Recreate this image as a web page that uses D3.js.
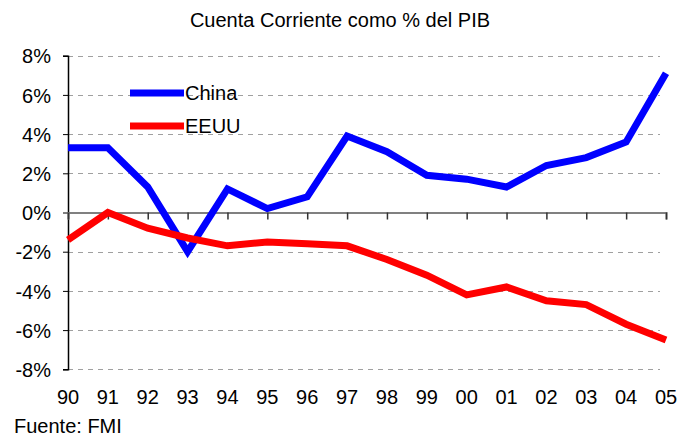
<!DOCTYPE html>
<html><head><meta charset="utf-8">
<script src="https://cdn.jsdelivr.net/npm/d3@7"></script>
<style>body{margin:0;background:#fff}svg{display:block;font-family:Arial,"Liberation Sans",sans-serif}</style>
</head><body>
<svg id="c" width="679" height="438"></svg>
<script>
const years = ["90","91","92","93","94","95","96","97","98","99","00","01","02","03","04","05"];
const china = [3.3,3.3,1.3,-2.0,1.2,0.2,0.8,3.9,3.1,1.9,1.7,1.3,2.4,2.8,3.6,7.1];
const eeuu  = [-1.4,0.0,-0.8,-1.3,-1.7,-1.5,-1.6,-1.7,-2.4,-3.2,-4.2,-3.8,-4.5,-4.7,-5.7,-6.5];
const yTicks = [8,6,4,2,0,-2,-4,-6,-8];
const seriesNames = ["China","EEUU"];
const seriesColors = ["#0000ff","#ff0000"];

const FS = 20;
const svg = d3.select("#c");
const x = d3.scalePoint().domain(years).range([68,666]);
const y = d3.scaleLinear().domain([-8,8]).range([369.3,55.7]);

svg.append("text").attr("x",340).attr("y",27).attr("text-anchor","middle")
  .attr("font-size",FS).text("Cuenta Corriente como % del PIB");

// gridlines
svg.append("g").selectAll("line").data(yTicks.filter(d=>d!==0)).join("line")
  .attr("x1",68).attr("x2",660).attr("y1",d=>Math.round(y(d))+0.5).attr("y2",d=>Math.round(y(d))+0.5)
  .attr("stroke","#a0a0a0").attr("stroke-width",1).attr("stroke-dasharray","5,5");

// y axis
const ya = svg.append("g").attr("transform","translate(68,0)")
  .call(d3.axisLeft(y).tickValues(yTicks).tickSize(5).tickFormat(d=>d+"%"));
ya.select(".domain").attr("stroke","#000").attr("stroke-width",1.5);
ya.selectAll(".tick line").attr("stroke","#000");
ya.selectAll("text").attr("font-size",FS).attr("font-family","Arial, Liberation Sans, sans-serif").attr("fill","#000").attr("x",-17).attr("dy","0.36em");

// zero axis
const xa = svg.append("g").attr("transform",`translate(0,${y(0)})`)
  .call(d3.axisBottom(x).tickSize(7).tickFormat(""));
xa.select(".domain").attr("stroke","#808080").attr("stroke-width",2);
xa.selectAll(".tick line").attr("stroke","#333").attr("stroke-width",1.5);

// bottom labels
svg.append("g").selectAll("text").data(years).join("text")
  .attr("x",d=>x(d)).attr("y",404).attr("text-anchor","middle")
  .attr("font-size",FS).text(d=>d);

const line = d3.line().x((d,i)=>x(years[i])).y(d=>y(d));
[china,eeuu].forEach((s,k)=>{
  svg.append("path").datum(s).attr("d",line).attr("fill","none")
    .attr("stroke",seriesColors[k]).attr("stroke-width",7).attr("stroke-linejoin","miter");
});

// legend
const ly = [93,126];
seriesNames.forEach((n,k)=>{
  svg.append("line").attr("x1",130).attr("x2",184).attr("y1",ly[k]).attr("y2",ly[k])
    .attr("stroke",seriesColors[k]).attr("stroke-width",7);
  svg.append("text").attr("x",185).attr("y",ly[k]).attr("dy","0.36em")
    .attr("font-size",FS).text(n);
});

svg.append("text").attr("x",14).attr("y",433).attr("font-size",FS).text("Fuente: FMI");
</script>
</body></html>
